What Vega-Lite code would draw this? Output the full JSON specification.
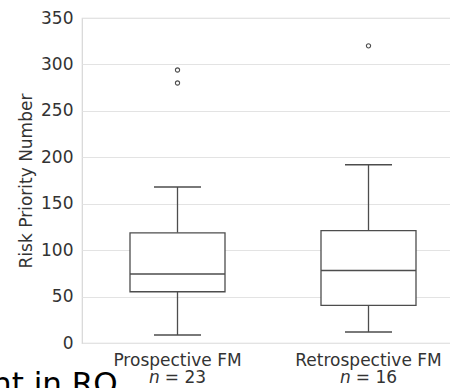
{
  "$schema": "https://vega.github.io/schema/vega-lite/v6.json",
  "width": 382,
  "height": 325,
  "autosize": "none",
  "padding": {"left": 82, "top": 18, "right": 0, "bottom": 45},
  "config": {"view": {"stroke": "#d6d6d6", "strokeWidth": 1.2}, "font": "DejaVu Sans"},
  "title": {"text": "nt in RO", "orient": "bottom", "anchor": "start", "frame": "group", "dx": -90, "offset": -15, "fontSize": 31, "fontWeight": "normal", "color": "#000000", "baseline": "top"},
  "datasets": {
    "boxes": [
      {"group": "Prospective FM", "n": 23, "lower": 8.6, "q1": 55.2, "median": 74.3, "q3": 118.7, "upper": 168},
      {"group": "Retrospective FM", "n": 16, "lower": 11.8, "q1": 40.6, "median": 78, "q3": 121, "upper": 192}
    ],
    "outliers": [
      {"group": "Prospective FM", "value": 294},
      {"group": "Prospective FM", "value": 280},
      {"group": "Retrospective FM", "value": 320}
    ]
  },
  "resolve": {"axis": {"x": "independent"}},
  "layer": [
    {
      "data": {"name": "boxes"},
      "mark": {"type": "rule", "color": "#4d4d4d", "strokeWidth": 1.3},
      "encoding": {
        "x": {
          "field": "group", "type": "nominal",
          "scale": {"domain": ["Prospective FM", "Retrospective FM"], "paddingInner": 0, "paddingOuter": 0},
          "axis": {"orient": "bottom", "title": null, "labelAngle": 0, "grid": false, "domain": false, "ticks": false,
            "labelPadding": 9, "labelFontSize": 17, "labelColor": "#333333"}
        },
        "y": {"field": "lower", "type": "quantitative", "scale": {"domain": [0, 350], "nice": false},
          "axis": {"values": [0, 50, 100, 150, 200, 250, 300, 350], "grid": true, "gridColor": "#e3e3e3", "gridWidth": 1.2, "domain": false, "ticks": false,
            "labelPadding": 9, "labelFontSize": 17, "labelColor": "#333333",
            "title": "Risk Priority Number", "titleFontSize": 17, "titleFontWeight": "normal", "titleColor": "#333333", "titlePadding": 5}},
        "y2": {"field": "q1"}
      }
    },
    {
      "data": {"name": "boxes"},
      "mark": {"type": "rule", "color": "#4d4d4d", "strokeWidth": 1.3},
      "encoding": {
        "x": {
          "field": "group", "type": "nominal",
          "axis": {"orient": "bottom", "title": null, "labelAngle": 0, "grid": false, "domain": false, "ticks": false,
            "labelPadding": 26, "labelFontSize": 17, "labelColor": "#333333", "labelFontStyle": "italic",
            "labelOffset": -23, "labelExpr": "'n'"}
        },
        "y": {"field": "q3", "type": "quantitative"}, "y2": {"field": "upper"}}
    },
    {
      "data": {"name": "boxes"},
      "mark": {"type": "bar", "size": 95, "fill": "#ffffff", "stroke": "#4d4d4d", "strokeWidth": 1.3},
      "encoding": {
        "x": {
          "field": "group", "type": "nominal",
          "axis": {"orient": "bottom", "title": null, "labelAngle": 0, "grid": false, "domain": false, "ticks": false,
            "labelPadding": 26, "labelFontSize": 17, "labelColor": "#333333",
            "labelOffset": 8, "labelExpr": "datum.value == 'Prospective FM' ? '= 23' : '= 16'"}
        },
        "y": {"field": "q1", "type": "quantitative"}, "y2": {"field": "q3"}}
    },
    {
      "data": {"name": "boxes"},
      "mark": {"type": "tick", "size": 95, "thickness": 1.4, "color": "#4d4d4d", "opacity": 1},
      "encoding": {"x": {"field": "group", "type": "nominal", "axis": null}, "y": {"field": "median", "type": "quantitative"}}
    },
    {
      "data": {"name": "boxes"},
      "mark": {"type": "tick", "size": 47, "thickness": 1.4, "color": "#4d4d4d", "opacity": 1},
      "encoding": {"x": {"field": "group", "type": "nominal", "axis": null}, "y": {"field": "lower", "type": "quantitative"}}
    },
    {
      "data": {"name": "boxes"},
      "mark": {"type": "tick", "size": 47, "thickness": 1.4, "color": "#4d4d4d", "opacity": 1},
      "encoding": {"x": {"field": "group", "type": "nominal", "axis": null}, "y": {"field": "upper", "type": "quantitative"}}
    },
    {
      "data": {"name": "outliers"},
      "mark": {"type": "point", "shape": "circle", "filled": false, "size": 18, "stroke": "#4d4d4d", "strokeWidth": 1.1, "opacity": 1},
      "encoding": {"x": {"field": "group", "type": "nominal", "axis": null}, "y": {"field": "value", "type": "quantitative"}}
    }
  ]
}
